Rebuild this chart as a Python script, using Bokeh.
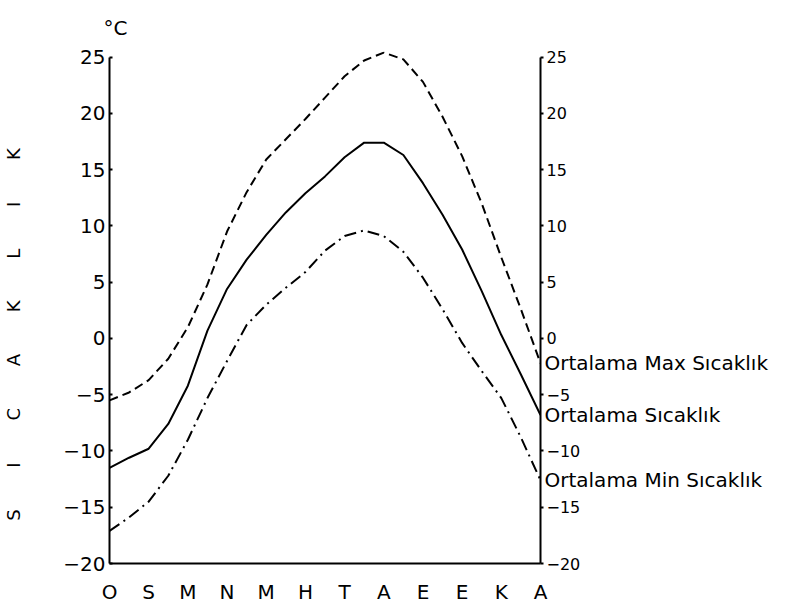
from bokeh.plotting import figure
from bokeh.models import Range1d, LinearAxis, FixedTicker, Title, ColumnDataSource
from bokeh.embed import file_html
from bokeh.resources import INLINE

# Month initials (Ocak ... Aralık)
months = ["O", "S", "M", "N", "M", "H", "T", "A", "E", "E", "K", "A"]
# readings every half month (0 = Ocak ... 11 = Aralık)
positions = [0, 0.5, 1, 1.5, 2, 2.5, 3, 3.5, 4, 4.5, 5, 5.5, 6, 6.5, 7, 7.5, 8, 8.5, 9, 9.5, 10, 10.5, 11]
max_temp = [-5.5, -4.8, -3.7, -1.8, 1.0, 4.8, 9.5, 13.0, 15.9, 17.7, 19.5, 21.4,
            23.3, 24.7, 25.4, 24.8, 22.8, 19.7, 16.2, 12.0, 7.2, 2.6, -2.2]
mean_temp = [-11.5, -10.6, -9.8, -7.6, -4.2, 0.7, 4.4, 7.0, 9.2, 11.2, 12.9, 14.4,
             16.1, 17.4, 17.4, 16.3, 13.8, 11.0, 7.9, 4.2, 0.3, -3.2, -6.8]
min_temp = [-17.1, -15.9, -14.5, -12.2, -9.0, -5.3, -2.0, 1.2, 3.0, 4.5, 5.9, 7.8,
            9.1, 9.6, 9.1, 7.7, 5.4, 2.6, -0.4, -2.9, -5.3, -8.8, -12.6]
y_ticks = [-20, -15, -10, -5, 0, 5, 10, 15, 20, 25]
series_labels = ["Ortalama Max Sıcaklık", "Ortalama Sıcaklık", "Ortalama Min Sıcaklık"]
y_letters = ["S", "I", "C", "A", "K", "L", "I", "K"]
unit = "°C"

FONT = "DejaVu Sans"
GAP = "\u2003\u2003\u00a0"

p = figure(width=789, height=610, output_backend="svg", toolbar_location=None,
           x_range=Range1d(0, 11), y_range=Range1d(-20, 25.5),
           min_border_left=107, min_border_right=249, min_border_top=51, min_border_bottom=47,
           y_axis_location=None, x_axis_location=None)
p.outline_line_color = None
p.grid.visible = False
p.background_fill_color = "white"
p.border_fill_color = "white"

# unit label above the left axis
p.add_layout(Title(text=unit, align="left", offset=-6, standoff=24, text_font=FONT,
                   text_font_size="20px", text_font_style="normal", text_color="black"), "above")

# left axis
ly = LinearAxis(ticker=FixedTicker(ticks=y_ticks), bounds=(y_ticks[0], y_ticks[-1]))
ly.axis_line_width = 2
ly.axis_line_color = "black"
ly.major_tick_in = 3
ly.major_tick_out = 0
ly.major_tick_line_width = 2
ly.minor_tick_line_color = None
ly.major_label_standoff = 4
ly.major_label_text_font = FONT
ly.major_label_text_font_size = "20px"
ly.major_label_text_color = "black"
ly.axis_label = GAP.join(y_letters) + "\u2003\u2003\u2003"
ly.axis_label_text_font = FONT
ly.axis_label_text_font_size = "18px"
ly.axis_label_text_font_style = "normal"
ly.axis_label_text_color = "black"
ly.axis_label_standoff = 36
p.add_layout(ly, "left")

# right axis (numbers)
ry = LinearAxis(ticker=FixedTicker(ticks=y_ticks), bounds=(y_ticks[0], y_ticks[-1]))
ry.axis_line_width = 2
ry.axis_line_color = "black"
ry.major_tick_in = 0
ry.major_tick_out = 3
ry.major_tick_line_width = 2
ry.minor_tick_line_color = None
ry.major_label_standoff = 3
ry.major_label_text_font = FONT
ry.major_label_text_font_size = "16px"
ry.major_label_text_color = "black"
p.add_layout(ry, "right")

# right side: series names at the line ends
end_vals = [max_temp[-1], mean_temp[-1], min_temp[-1]]
ny = LinearAxis(ticker=FixedTicker(ticks=end_vals),
                major_label_overrides={v: s for v, s in zip(end_vals, series_labels)})
ny.axis_line_color = None
ny.major_tick_line_color = None
ny.minor_tick_line_color = None
ny.major_label_standoff = -45
ny.major_label_text_font = FONT
ny.major_label_text_font_size = "20px"
ny.major_label_text_color = "black"
p.add_layout(ny, "right")

# bottom axis
bx = LinearAxis(ticker=FixedTicker(ticks=list(range(12))),
                major_label_overrides={i: m for i, m in enumerate(months)})
bx.axis_line_width = 2
bx.axis_line_color = "black"
bx.major_tick_line_color = None
bx.minor_tick_line_color = None
bx.major_label_standoff = 10
bx.major_label_text_font = FONT
bx.major_label_text_font_size = "20px"
bx.major_label_text_color = "black"
p.add_layout(bx, "below")

src = ColumnDataSource(dict(x=positions, mx=max_temp, me=mean_temp, mn=min_temp))
p.line("x", "mx", source=src, line_color="black", line_width=2, line_dash="9 5")
p.line("x", "me", source=src, line_color="black", line_width=2)
p.line("x", "mn", source=src, line_color="black", line_width=2, line_dash="12 5 2 5")

open("out.html", "w").write(file_html(p, INLINE))
